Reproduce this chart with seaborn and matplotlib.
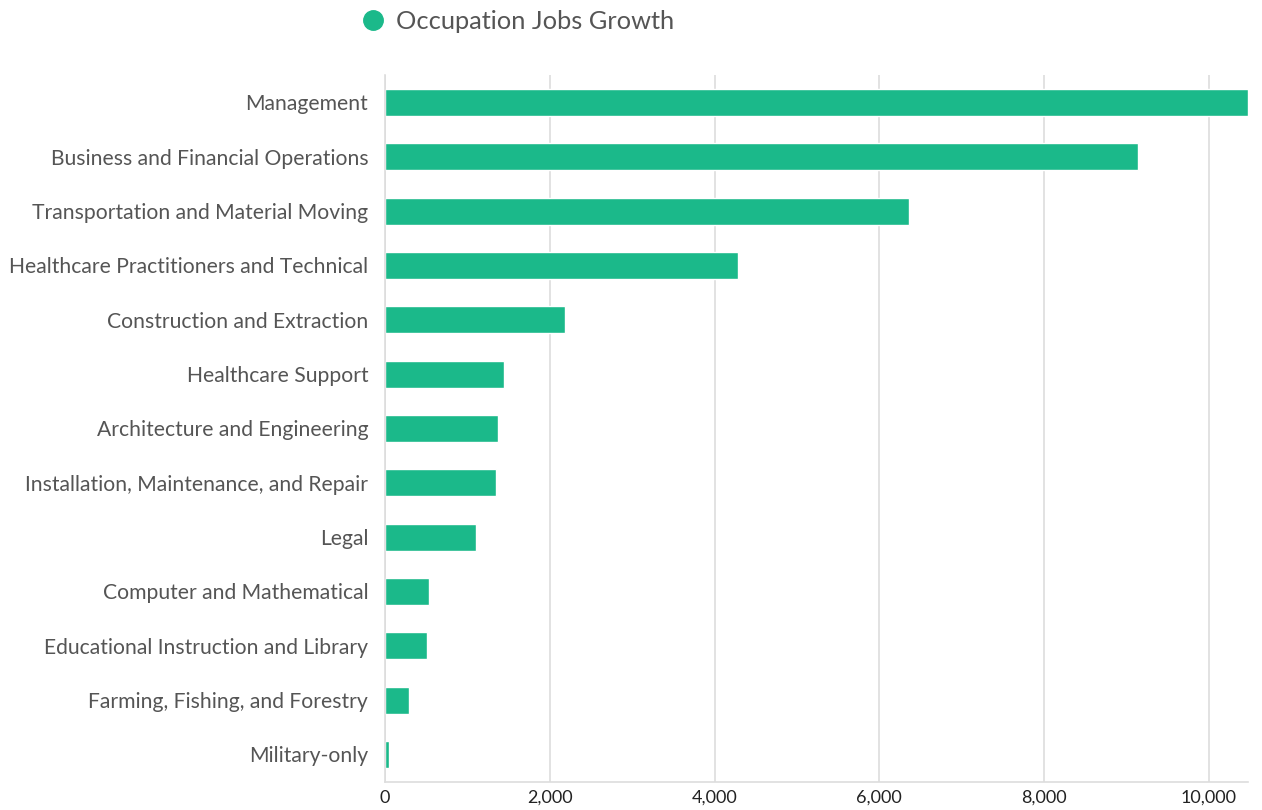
import matplotlib.pyplot as plt
import pandas as pd
import seaborn as sns
from matplotlib.lines import Line2D

# Data
occupations = ['Management', 'Business and Financial Operations', 'Transportation and Material Moving',
               'Healthcare Practitioners and Technical', 'Construction and Extraction', 'Healthcare Support',
               'Architecture and Engineering', 'Installation, Maintenance, and Repair', 'Legal',
               'Computer and Mathematical', 'Educational Instruction and Library',
               'Farming, Fishing, and Forestry', 'Military-only']
growth = [10476, 9135, 6360, 4290, 2185, 1445, 1372, 1350, 1105, 535, 512, 292, 50]

df = pd.DataFrame({'occupation': occupations, 'growth': growth})

sns.set_style('white')
plt.rcParams['font.family'] = ['Lato', 'DejaVu Sans']

color = '#1bb98a'
fig = plt.figure(figsize=(12.62, 8.10), dpi=100)
ax = fig.add_axes([0.305, 0.035, 0.684, 0.872])

sns.barplot(data=df, y='occupation', x='growth', color=color, width=0.5, ax=ax, saturation=1)

ax.set_xlim(0, 10476)
ax.set_xticks([0, 2000, 4000, 6000, 8000, 10000])
ax.set_xticklabels(['0', '2,000', '4,000', '6,000', '8,000', '10,000'], fontsize=13, color='#222222')
ax.tick_params(axis='y', labelsize=15.2, labelcolor='#555555', length=0, pad=12)
ax.tick_params(axis='x', length=0, pad=6)
ax.set_xlabel('')
ax.set_ylabel('')
ax.grid(axis='x', color='#dddddd', linewidth=1.2)
ax.set_axisbelow(True)
for s in ['top', 'right']:
    ax.spines[s].set_visible(False)
ax.spines['left'].set_color('#dddddd')
ax.spines['bottom'].set_color('#dddddd')
ax.spines['left'].set_linewidth(1.2)
ax.spines['bottom'].set_linewidth(1.2)

handle = Line2D([], [], marker='o', linestyle='', markersize=14, color=color)
fig.legend([handle], ['Occupation Jobs Growth'], loc='center', bbox_to_anchor=(0.405, 0.974),
           frameon=False, fontsize=18.3, labelcolor='#555555', handletextpad=-0.1)

fig.savefig('out.png', dpi=100)
